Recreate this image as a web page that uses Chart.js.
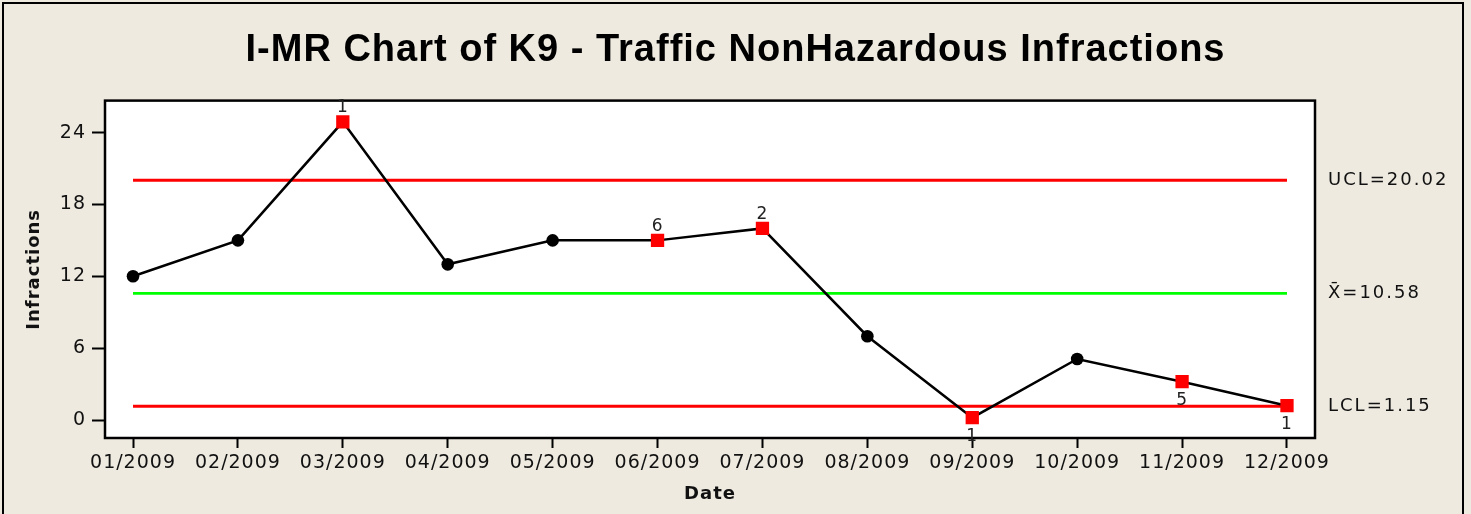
<!DOCTYPE html>
<html>
<head>
<meta charset="utf-8">
<script src="https://cdn.jsdelivr.net/npm/chart.js@4/dist/chart.umd.min.js"></script>
<style>
html, body { margin: 0; padding: 0; background: #EEEAE0; }
#wrap { width: 1471px; height: 514px; }
</style>
</head>
<body>
<div id="wrap"><canvas id="imrChart"></canvas></div>
<script>
// I-MR chart, individuals part

const months = ['01/2009', '02/2009', '03/2009', '04/2009', '05/2009', '06/2009',
    '07/2009', '08/2009', '09/2009', '10/2009', '11/2009', '12/2009'];
const infractions = [12, 15, 24.9, 13, 15, 15, 16, 7, 0.2, 5.1, 3.2, 1.2];
const testFlags = ['', '', '1', '', '', '6', '2', '', '1', '', '5', '1'];
const yTicks = [0, 6, 12, 18, 24];
const ucl = 20.02;
const xbar = 10.58;
const lcl = 1.15;
const limitLabels = ['UCL=20.02', 'X\u0304=10.58', 'LCL=1.15'];
const limitValues = [ucl, xbar, lcl];

const bg = '#EEEAE0';
const spacing = '1px';

function limitLine(value, color) {
    return {
        data: [{ x: 0, y: value }, { x: months.length - 1, y: value }],
        borderColor: color,
        borderWidth: 2.8,
        pointRadius: 0,
        fill: false
    };
}

const pointData = infractions.map((v, i) => ({ x: i, y: v }));

const spacingPlugin = {
    id: 'spacing',
    beforeUpdate(chart) { chart.ctx.letterSpacing = spacing; },
    beforeDraw(chart) { chart.ctx.letterSpacing = spacing; }
};

const framePlugin = {
    id: 'frame',
    beforeDraw(chart) {
        const ctx = chart.ctx;
        const a = chart.chartArea;
        ctx.save();
        ctx.fillStyle = bg;
        ctx.fillRect(0, 0, chart.width, chart.height);
        ctx.strokeStyle = '#000';
        ctx.lineWidth = 2;
        ctx.strokeRect(3, 3, 1460, 530);
        ctx.fillStyle = '#fff';
        ctx.fillRect(a.left, a.top, a.right - a.left, a.bottom - a.top);
        ctx.restore();
    },
    afterDraw(chart) {
        const ctx = chart.ctx;
        const a = chart.chartArea;
        const xs = chart.scales.x;
        const ys = chart.scales.y;
        ctx.save();
        ctx.letterSpacing = spacing;
        ctx.strokeStyle = '#000';
        ctx.lineWidth = 2.5;
        ctx.strokeRect(a.left, a.top, a.right - a.left, a.bottom - a.top);

        // test flags next to the red points
        ctx.fillStyle = '#222';
        ctx.font = '17px "DejaVu Sans"';
        ctx.textAlign = 'center';
        ctx.textBaseline = 'middle';
        testFlags.forEach((f, i) => {
            if (!f) return;
            const px = xs.getPixelForValue(i);
            const py = ys.getPixelForValue(infractions[i]);
            const dy = infractions[i] < xbar ? 19 : -14;
            ctx.fillText(f, px, py + dy);
        });

        // control limit labels
        ctx.fillStyle = '#111';
        ctx.font = '18px "DejaVu Sans"';
        ctx.textAlign = 'left';
        ctx.letterSpacing = '2px';
        limitLabels.forEach((t, i) => {
            ctx.fillText(t, a.right + 13, ys.getPixelForValue(limitValues[i]));
        });
        ctx.restore();
    }
};

new Chart(document.getElementById('imrChart'), {
    type: 'line',
    data: {
        datasets: [
            {
                data: pointData,
                borderColor: '#000',
                borderWidth: 2.5,
                pointStyle: testFlags.map(f => f ? 'rect' : 'circle'),
                pointRadius: testFlags.map(f => f ? 9.4 : 6.3),
                pointBackgroundColor: testFlags.map(f => f ? '#FF0000' : '#000'),
                pointBorderWidth: 0,
                tension: 0,
                fill: false
            },
            limitLine(ucl, '#FF0000'),
            limitLine(xbar, '#00FF00'),
            limitLine(lcl, '#FF0000')
        ]
    },
    options: {
        animation: false,
        responsive: true,
        maintainAspectRatio: false,
        layout: { padding: 0 },
        plugins: {
            legend: { display: false },
            tooltip: { enabled: false },
            title: {
                display: true,
                text: 'I-MR Chart of K9 - Traffic NonHazardous Infractions',
                color: '#000',
                font: { family: '"Liberation Sans"', size: 38, weight: 'bold', lineHeight: 1.2 },
                padding: { top: 28, bottom: 27 }
            }
        },
        scales: {
            x: {
                type: 'linear',
                min: -0.267,
                max: 11.267,
                afterBuildTicks: s => { s.ticks = months.map((m, i) => ({ value: i })); },
                afterFit: s => { s.height = 76; },
                ticks: {
                    callback: v => months[v],
                    color: '#111',
                    font: { family: '"DejaVu Sans"', size: 19 },
                    padding: 4,
                    maxRotation: 0,
                    autoSkip: false
                },
                grid: { drawOnChartArea: false, tickLength: 10, tickColor: '#000', tickWidth: 2 },
                border: { display: false },
                title: {
                    display: true,
                    text: 'Date',
                    color: '#111',
                    font: { family: '"DejaVu Sans"', size: 18, weight: 'bold' },
                    padding: { top: 0, bottom: 9 }
                }
            },
            y: {
                min: -1.5,
                max: 26.67,
                afterBuildTicks: s => { s.ticks = yTicks.map(v => ({ value: v })); },
                afterFit: s => { s.width = 105; },
                ticks: {
                    color: '#111',
                    font: { family: '"DejaVu Sans"', size: 19 },
                    padding: 6
                },
                grid: { drawOnChartArea: false, tickLength: 13, tickColor: '#000', tickWidth: 2 },
                border: { display: false },
                title: {
                    display: true,
                    text: 'Infractions',
                    color: '#111',
                    font: { family: '"DejaVu Sans"', size: 18, weight: 'bold' },
                    padding: { top: 24, bottom: 0 }
                }
            },
            side: {
                position: 'right',
                afterFit: s => { s.width = 156; },
                ticks: { display: false },
                grid: { display: false },
                border: { display: false }
            }
        }
    },
    plugins: [spacingPlugin, framePlugin]
});
</script>
</body>
</html>
